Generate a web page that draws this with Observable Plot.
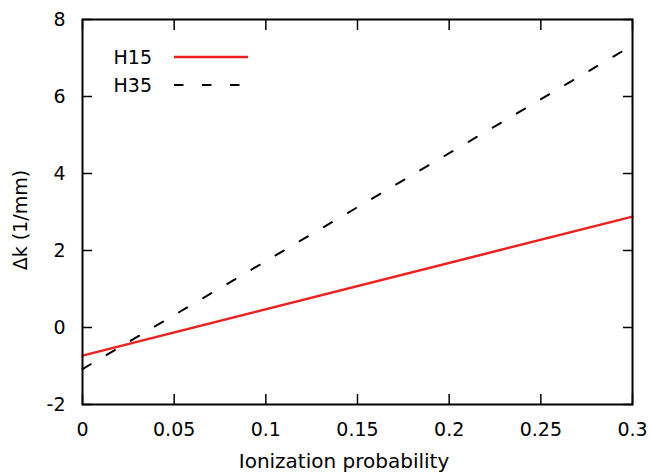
<!DOCTYPE html>
<html><head><meta charset="utf-8">
<script src="https://cdn.jsdelivr.net/npm/d3@7"></script>
<script src="https://cdn.jsdelivr.net/npm/@observablehq/plot@0.6"></script>
<style>
body{margin:0;background:#fff}
#wrap{position:relative;width:650px;height:474px}
#legend{position:absolute;left:0;top:0}
</style>
</head><body><div id="wrap"></div>
<script>
const seriesNames = ["H15", "H35"];
const seriesColors = ["#ee2020", "#000000"];
const probability = [0, 0.3];
const h15 = [-0.73, 2.88];
const h35 = [-1.08, 7.33];
const xTicks = [0, 0.05, 0.1, 0.15, 0.2, 0.25, 0.3];
const xTickLabels = ["0", "0.05", "0.1", "0.15", "0.2", "0.25", "0.3"];
const yTicks = [-2, 0, 2, 4, 6, 8];
const yTickLabels = ["-2", "0", "2", "4", "6", "8"];
const xLabel = "Ionization probability";
const yLabel = "Δk (1/mm)";

const rows = [];
[h15, h35].forEach((vals, i) => vals.forEach((v, j) => rows.push({series: seriesNames[i], x: probability[j], y: v})));

const font = "DejaVu Sans, Liberation Sans, Arial, sans-serif";
const fs = 19;
const chart = Plot.plot({
  width: 650, height: 474,
  marginLeft: 82, marginRight: 18, marginTop: 19, marginBottom: 70,
  style: {fontFamily: font, fontSize: fs + "px", color: "#000", background: "#fff"},
  x: {domain: [0, 0.3]},
  y: {domain: [-2, 8]},
  marks: [
    Plot.axisX({anchor: "bottom", ticks: xTicks, tickFormat: (d, i) => xTickLabels[i], tickSize: -10, tickPadding: 28, strokeWidth: 1.5, label: null, fontSize: fs}),
    Plot.axisX({anchor: "top", ticks: xTicks, tickFormat: () => "", tickSize: -10, strokeWidth: 1.5, label: null}),
    Plot.axisY({anchor: "left", ticks: yTicks, tickFormat: (d, i) => yTickLabels[i], tickSize: -10, tickPadding: 27, strokeWidth: 1.5, label: null, fontSize: fs}),
    Plot.axisY({anchor: "right", ticks: yTicks, tickFormat: () => "", tickSize: -10, strokeWidth: 1.5, label: null}),
    Plot.line(rows.filter(d => d.series === "H15"), {x: "x", y: "y", stroke: seriesColors[0], strokeWidth: 2.5}),
    Plot.line(rows.filter(d => d.series === "H35"), {x: "x", y: "y", stroke: seriesColors[1], strokeWidth: 2, strokeDasharray: "9.5,18.5"}),
    Plot.frame({stroke: "#000", strokeWidth: 2})
  ]
});
const wrap = document.getElementById("wrap");
wrap.appendChild(chart);

// overlay: legend and axis titles
const ns = "http://www.w3.org/2000/svg";
const leg = document.createElementNS(ns, "svg");
leg.setAttribute("id", "legend");
leg.setAttribute("width", 650);
leg.setAttribute("height", 474);
function addText(txt, x, y, size, anchor, rotate) {
  const t = document.createElementNS(ns, "text");
  t.setAttribute("x", x); t.setAttribute("y", y);
  t.setAttribute("text-anchor", anchor);
  t.setAttribute("dominant-baseline", "central");
  t.setAttribute("font-family", font); t.setAttribute("font-size", size);
  if (rotate) t.setAttribute("transform", `rotate(${rotate},${x},${y})`);
  t.textContent = txt;
  leg.appendChild(t);
}
seriesNames.forEach((name, i) => {
  const cy = 57 + i * 28;
  addText(name, 152, cy, fs, "end", 0);
  const l = document.createElementNS(ns, "line");
  l.setAttribute("x1", 174); l.setAttribute("x2", 248);
  l.setAttribute("y1", cy); l.setAttribute("y2", cy);
  l.setAttribute("stroke", seriesColors[i]);
  l.setAttribute("stroke-width", i === 0 ? 2.5 : 2);
  if (i === 1) l.setAttribute("stroke-dasharray", "9.5,18.5");
  leg.appendChild(l);
});
addText(xLabel, 344, 461, 20, "middle", 0);
addText(yLabel, 20, 220, 19, "middle", -90);
wrap.appendChild(leg);
</script>
</body></html>
